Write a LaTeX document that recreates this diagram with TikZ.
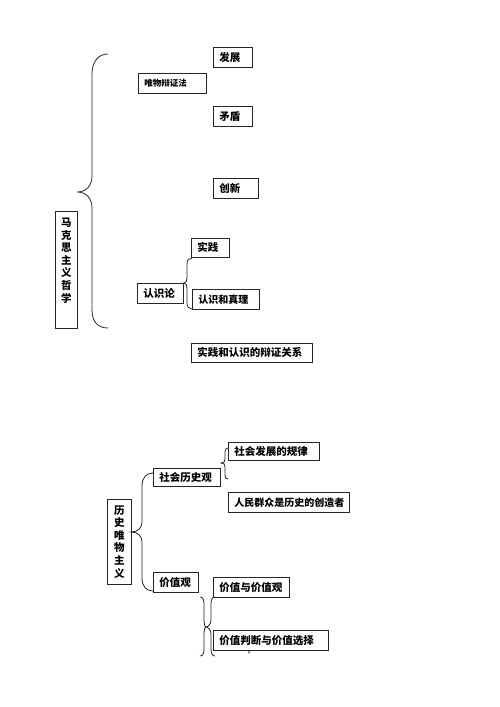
\documentclass[tikz,border=0pt]{standalone}
\usepackage{fontspec}
\setmainfont{Noto Sans CJK SC}
\tikzset{
  box/.style={draw=black!85, line width=0.8pt, rectangle, anchor=north west,
    inner xsep=6pt, inner ysep=0pt, minimum height=20pt, align=left,
    font=\bfseries\fontsize{10.5}{12}\selectfont},
  vbox/.style={draw=black!85, line width=0.8pt, rectangle, anchor=north west,
    inner sep=0pt, align=center, font=\bfseries\fontsize{10.5}{12.6}\selectfont},
  brace/.style={draw=black!85, line width=0.8pt}
}
\begin{document}
\begin{tikzpicture}[x=1pt,y=-1pt]
\useasboundingbox (0,0) rectangle (500,707);
% top part
\node[box, text width=27pt] (fz) at (213,47) {发展};
\node[box, text width=56pt, font=\bfseries\fontsize{8.5}{10}\selectfont] (wwb) at (138,73) {唯物辩证法};
\node[box, text width=27pt] (md) at (213,106) {矛盾};
\node[box, text width=33pt] (cx) at (213,178) {创新};
\node[vbox, minimum width=22pt, minimum height=117pt] (mks) at (55,211) {马\\克\\思\\主\\义\\哲\\学\\[7pt]\mbox{}};
\node[box, text width=26pt, minimum height=19pt] (sj) at (191,238) {实践};
\node[box, text width=34pt] (rsl) at (137,283) {认识论};
\node[box, text width=55pt, font=\bfseries\fontsize{10}{12}\selectfont] (rszl) at (192,289) {认识和真理};
\node[box, text width=109pt, minimum height=19pt] (gx) at (191,343) {实践和认识的辩证关系};
% bottom part
\node[box, text width=79pt, minimum height=18pt] (gl) at (228,442) {社会发展的规律};
\node[box, text width=55pt, minimum height=18pt] (shl) at (153,468) {社会历史观};
\node[box, text width=109pt, font=\bfseries\fontsize{10}{12}\selectfont] (rm) at (228,492) {人民群众是历史的创造者};
\node[vbox, minimum width=24pt, minimum height=85pt] (lswm) at (107,499) {历\\史\\唯\\物\\主\\义};
\node[box, text width=33pt] (jzg) at (153,572) {价值观};
\node[box, text width=64pt] (jyj) at (213,577) {价值与价值观};
\node[box, text width=103pt] (pd) at (213,630) {价值判断与价值选择};
\node[inner sep=0pt, anchor=base west, font=\fontsize{8}{8}\selectfont] (dot) at (247.5,653) {\smash{。}};
% brace 1
\coordinate (b1t) at (108,54);
\coordinate (b1m) at (77,192);
\coordinate (b1b) at (108,328);
\draw[brace] (b1t) .. controls (98,54) and (92,62) .. (92,74) -- (92,176)
  .. controls (92,186) and (86,192) .. (b1m)
  .. controls (86,192) and (92,198) .. (92,208) -- (92,310)
  .. controls (92,322) and (98,328) .. (b1b);
% brace 2
\coordinate (b2t) at (192,258);
\coordinate (b2m) at (rsl.north east);
\coordinate (b2b) at (192,309);
\draw[brace] (b2t) .. controls (189,258) and (187,260) .. (187,264) -- (187,278)
  .. controls (187,281) and (186,283) .. (b2m)
  .. controls (186,283) and (187,285) .. (187,288) -- (187,303)
  .. controls (187,307) and (189,309) .. (b2b);
% brace 3
\coordinate (b3t) at (228,448);
\coordinate (b3m) at (221,463);
\coordinate (b3b) at (228,479);
\draw[brace] (b3t) .. controls (226,448) and (225,449) .. (225,452) -- (225,459)
  .. controls (225,462) and (224,463) .. (b3m)
  .. controls (224,463) and (225,464) .. (225,467) -- (225,475)
  .. controls (225,478) and (226,479) .. (b3b);
% brace 4
\coordinate (b4t) at (153,473);
\coordinate (b4m) at (131,532);
\coordinate (b4b) at (153,591);
\draw[brace] (b4t) .. controls (146,473) and (142,478) .. (142,486) -- (142,522)
  .. controls (142,528) and (138,532) .. (b4m)
  .. controls (138,532) and (142,536) .. (142,542) -- (142,578)
  .. controls (142,586) and (146,591) .. (b4b);
% double brace
\coordinate (b5m) at (206,627);
\coordinate (b5lt) at (200,597);
\coordinate (b5lb) at (200,656);
\coordinate (b5rt) at (215,597);
\coordinate (b5rb) at (215,656);
\draw[brace] (b5lt) .. controls (203,597) and (204,600) .. (204,604) -- (204,620)
  .. controls (204,624) and (205,627) .. (b5m)
  .. controls (205,627) and (204,630) .. (204,634) -- (204,649)
  .. controls (204,653) and (203,656) .. (b5lb);
\draw[brace] (b5rt) .. controls (212,597) and (211,600) .. (211,604) -- (211,620)
  .. controls (211,624) and (208,627) .. (b5m)
  .. controls (208,627) and (211,630) .. (211,634) -- (211,649)
  .. controls (211,653) and (212,656) .. (b5rb);
\end{tikzpicture}
\end{document}
